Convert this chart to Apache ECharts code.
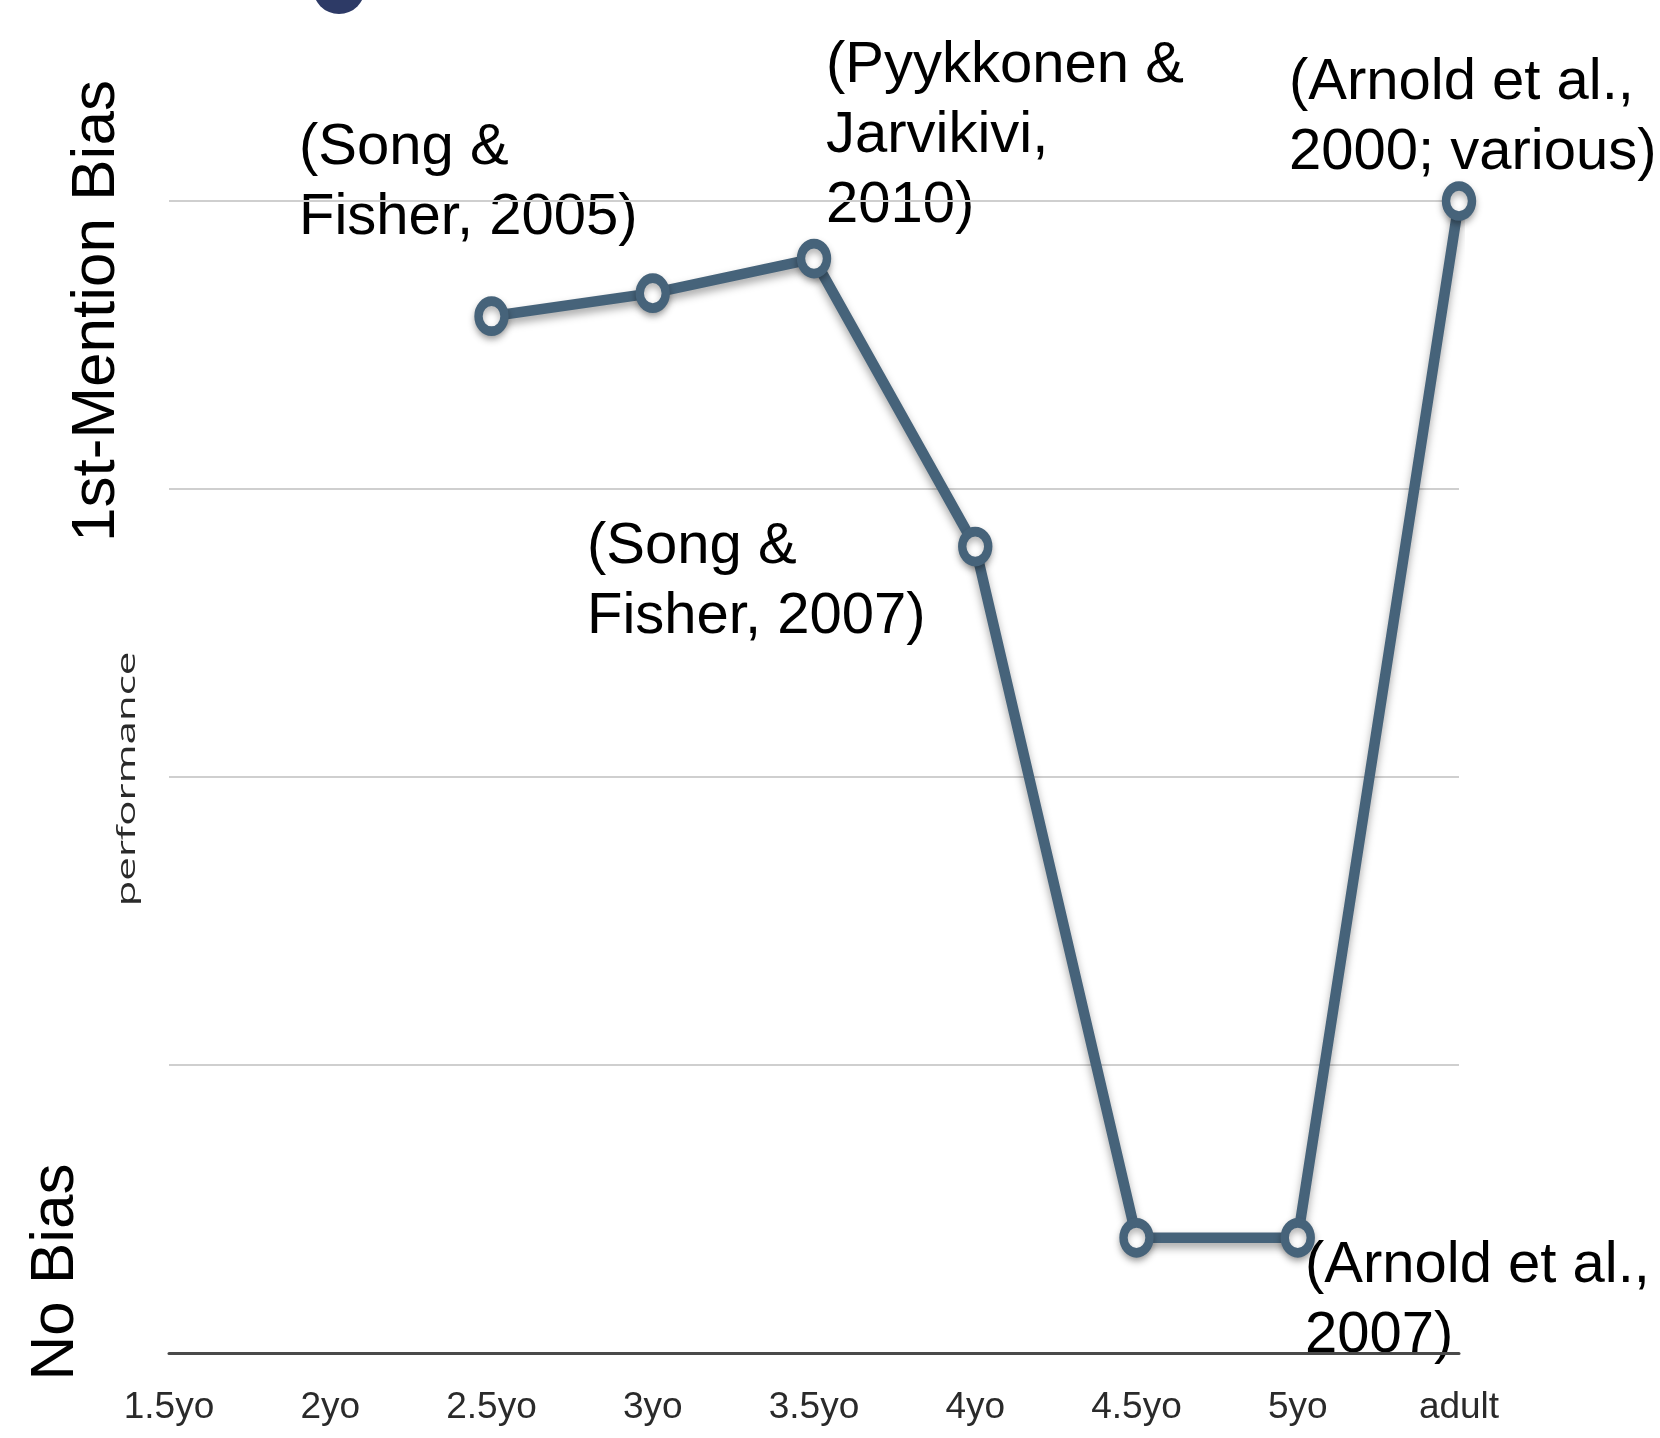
<!DOCTYPE html>
<html>
<head>
<meta charset="utf-8">
<style>
  html, body { margin: 0; padding: 0; background: #fff; }
  #chart { width: 1660px; height: 1438px; }
</style>
<script src="https://cdn.jsdelivr.net/npm/echarts@6/dist/echarts.min.js"></script>
</head>
<body>
<div id="chart"></div>
<script>
// age groups on the x axis
var ages = ['1.5yo', '2yo', '2.5yo', '3yo', '3.5yo', '4yo', '4.5yo', '5yo', 'adult']
// strength of the 1st-mention bias (0 = no bias, 100 = adult level)
var bias = [null, null, 90, 92, 95, 70, 10, 10, 100]
var yMin = 0
var yMax = 100
var yStep = 25

var lineColor = '#46637a'
var textFont = '"Liberation Sans", Arial, sans-serif'

var chart = echarts.init(document.getElementById('chart'))

function note(text, x, y) {
  return {
    type: 'text',
    x: x,
    y: y,
    style: {
      text: text,
      font: '58px ' + textFont,
      lineHeight: 70,
      fill: '#000',
      textAlign: 'left',
      textVerticalAlign: 'top'
    }
  }
}

function sideLabel(text, x, y, size, color) {
  return {
    type: 'text',
    x: x,
    y: y,
    rotation: Math.PI / 2,
    style: {
      text: text,
      font: size + 'px ' + textFont,
      fill: color,
      textAlign: 'center',
      textVerticalAlign: 'middle'
    }
  }
}

var option = {
  backgroundColor: '#fff',
  animation: false,
  grid: { left: 169, right: 201, top: 201, bottom: 85 },
  xAxis: {
    type: 'category',
    data: ages,
    boundaryGap: false,
    axisTick: { show: false },
    axisLine: { lineStyle: { color: '#4a4a4a', width: 3 } },
    axisLabel: {
      margin: 36,
      fontSize: 37,
      color: '#2a2a2a',
      fontFamily: '"Liberation Sans Narrow", "Liberation Sans", sans-serif'
    },
    splitLine: { show: false }
  },
  yAxis: {
    type: 'value',
    min: yMin,
    max: yMax,
    interval: yStep,
    axisLine: { show: false },
    axisTick: { show: false },
    axisLabel: { show: false },
    splitLine: { lineStyle: { color: '#cfcfcf', width: 2 } }
  },
  series: [
    {
      type: 'line',
      data: bias,
      symbol: 'circle',
      // markers are a bit taller than wide in the original
      symbolSize: [26, 30],
      showSymbol: true,
      lineStyle: {
        color: lineColor,
        width: 10.5,
        shadowColor: 'rgba(0,0,0,0.35)',
        shadowBlur: 8,
        shadowOffsetY: 5
      },
      itemStyle: {
        color: '#fff',
        borderColor: lineColor,
        borderWidth: 9,
        shadowColor: 'rgba(0,0,0,0.3)',
        shadowBlur: 7,
        shadowOffsetY: 4
      },
      z: 3
    }
  ],
  graphic: [
    // clipped bit of the slide title at the top edge
    {
      type: 'circle',
      shape: { cx: 339, cy: -12, r: 26 },
      style: { fill: '#2d3a66' }
    },
    sideLabel('1st-Mention Bias', 97, 311, 62, '#000'),
    sideLabel('No Bias', 56, 1272, 62, '#000'),
    {
      type: 'text',
      x: 128,
      y: 779,
      rotation: Math.PI / 2,
      scaleX: 1.68,
      style: {
        text: 'performance',
        font: '25px "Open Sans", sans-serif',
        fill: '#2a2a2a',
        textAlign: 'center',
        textVerticalAlign: 'middle'
      }
    },
    note('(Song &\nFisher, 2005)', 299, 113),
    note('(Pyykkonen &\nJarvikivi,\n2010)', 826, 31),
    note('(Arnold et al.,\n2000; various)', 1289, 48),
    note('(Song &\nFisher, 2007)', 587, 512),
    note('(Arnold et al.,\n2007)', 1305, 1231)
  ]
}

chart.setOption(option)
</script>
</body>
</html>
